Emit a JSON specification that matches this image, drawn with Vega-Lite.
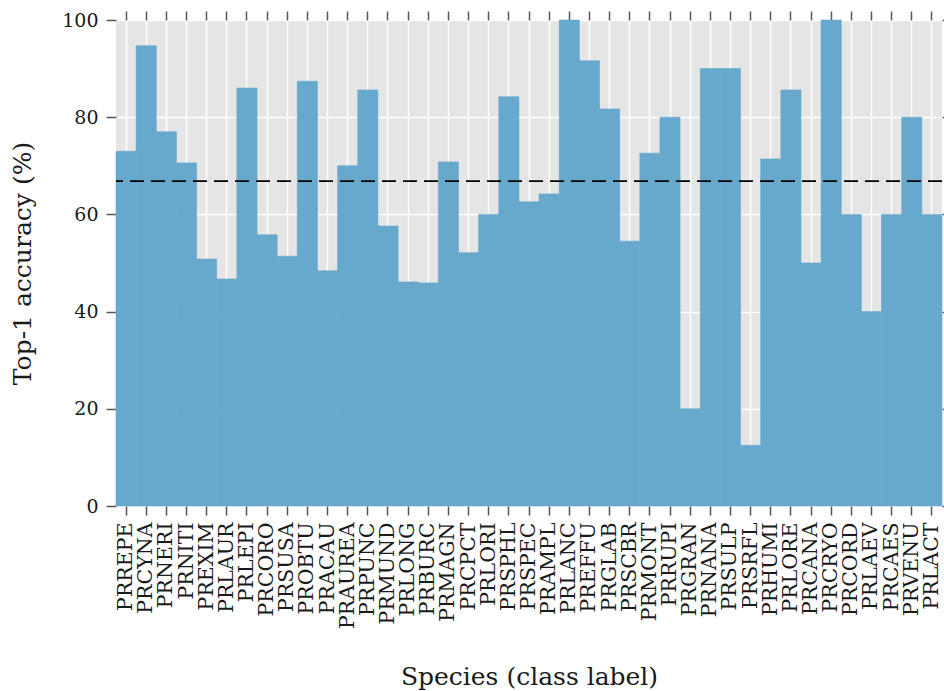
{
  "$schema": "https://vega.github.io/schema/vega-lite/v6.json",
  "autosize": {"type": "none"},
  "width": 826,
  "height": 486,
  "padding": {"left": 116, "top": 20, "right": 2, "bottom": 185},
  "background": "white",
  "config": {
    "view": {"fill": "#e5e5e5", "stroke": null},
    "font": "DejaVu Serif",
    "axis": {
      "labelFont": "DejaVu Serif",
      "titleFont": "DejaVu Serif",
      "labelColor": "#1a1a1a",
      "titleColor": "#1a1a1a",
      "labelFontSize": 19,
      "titleFontSize": 25,
      "titleFontWeight": "normal",
      "gridColor": "#ffffff",
      "gridWidth": 1.5,
      "gridOpacity": 1,
      "tickColor": "#555555",
      "tickWidth": 1.5,
      "domain": false
    }
  },
  "data": {
    "values": [
      {"species": "PRREPE", "acc": 73.0},
      {"species": "PRCYNA", "acc": 94.7},
      {"species": "PRNERI", "acc": 77.0},
      {"species": "PRNITI", "acc": 70.6},
      {"species": "PREXIM", "acc": 50.8},
      {"species": "PRLAUR", "acc": 46.7},
      {"species": "PRLEPI", "acc": 86.0},
      {"species": "PRCORO", "acc": 55.8},
      {"species": "PRSUSA", "acc": 51.4},
      {"species": "PROBTU", "acc": 87.4},
      {"species": "PRACAU", "acc": 48.4},
      {"species": "PRAUREA", "acc": 70.0},
      {"species": "PRPUNC", "acc": 85.6},
      {"species": "PRMUND", "acc": 57.6},
      {"species": "PRLONG", "acc": 46.1},
      {"species": "PRBURC", "acc": 45.9},
      {"species": "PRMAGN", "acc": 70.8},
      {"species": "PRCPCT", "acc": 52.1},
      {"species": "PRLORI", "acc": 60.0},
      {"species": "PRSPHL", "acc": 84.2},
      {"species": "PRSPEC", "acc": 62.6},
      {"species": "PRAMPL", "acc": 64.2},
      {"species": "PRLANC", "acc": 100.0},
      {"species": "PREFFU", "acc": 91.6},
      {"species": "PRGLAB", "acc": 81.7},
      {"species": "PRSCBR", "acc": 54.5},
      {"species": "PRMONT", "acc": 72.6},
      {"species": "PRRUPI", "acc": 80.0},
      {"species": "PRGRAN", "acc": 20.0},
      {"species": "PRNANA", "acc": 90.0},
      {"species": "PRSULP", "acc": 90.0},
      {"species": "PRSRFL", "acc": 12.5},
      {"species": "PRHUMI", "acc": 71.4},
      {"species": "PRLORE", "acc": 85.6},
      {"species": "PRCANA", "acc": 50.0},
      {"species": "PRCRYO", "acc": 100.0},
      {"species": "PRCORD", "acc": 60.0},
      {"species": "PRLAEV", "acc": 40.0},
      {"species": "PRCAES", "acc": 60.0},
      {"species": "PRVENU", "acc": 80.0},
      {"species": "PRLACT", "acc": 60.0}
    ]
  },
  "layer": [
    {
      "mark": {"type": "bar", "color": "#67a8cd", "stroke": "#67a8cd", "strokeWidth": 0.6},
      "encoding": {
        "x": {
          "field": "species", "type": "nominal", "sort": null,
          "scale": {"paddingInner": 0, "paddingOuter": 0},
          "axis": {
            "orient": "bottom", "title": "Species (class label)",
            "labelAngle": -90, "labelPadding": 7, "tickSize": 9,
            "labelFontSize": 20.5,
            "bandPosition": 0.5, "grid": true, "titlePadding": 36
          }
        },
        "y": {
          "field": "acc", "type": "quantitative",
          "scale": {"domain": [0, 100], "nice": false},
          "axis": {
            "orient": "left", "title": "Top-1 accuracy (%)",
            "values": [0, 20, 40, 60, 80, 100], "tickSize": 10,
            "labelPadding": 8, "grid": true, "titlePadding": 26
          }
        }
      }
    },
    {
      "mark": {"type": "bar", "opacity": 0},
      "encoding": {
        "x": {
          "field": "species", "type": "nominal", "sort": null,
          "axis": {
            "orient": "top", "title": null, "labels": false,
            "tickSize": 9, "bandPosition": 0.5, "grid": false
          }
        },
        "y": {
          "field": "acc", "type": "quantitative",
          "axis": {
            "orient": "right", "title": null, "labels": false,
            "values": [0, 20, 40, 60, 80, 100], "tickSize": 3, "grid": false
          }
        }
      }
    },
    {
      "mark": {"type": "rule", "color": "#000000", "strokeWidth": 1.6, "strokeDash": [14, 7]},
      "encoding": {
        "y": {"aggregate": "mean", "field": "acc", "type": "quantitative", "axis": null}
      }
    }
  ],
  "resolve": {"axis": {"x": "independent", "y": "independent"}}
}
